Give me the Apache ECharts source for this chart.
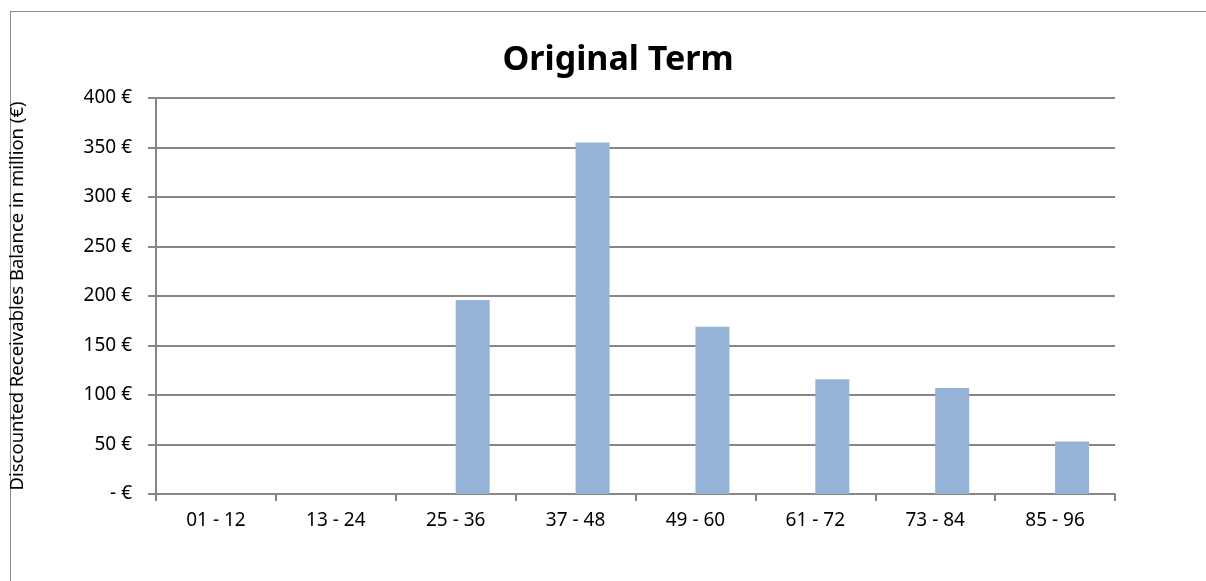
<!DOCTYPE html>
<html>
<head>
<meta charset="utf-8">
<script src="https://cdn.jsdelivr.net/npm/echarts@6/dist/echarts.min.js"></script>
<style>
html,body{margin:0;padding:0;background:#fff;overflow:hidden;}
#frame{position:absolute;left:10px;top:11px;width:1300px;height:700px;border:1.5px solid #8c8c8c;box-sizing:border-box;}
#chart{position:absolute;left:0;top:0;width:1206px;height:581px;}
</style>
</head>
<body>
<div id="frame"></div>
<div id="chart"></div>
<script>
const categories = ['01 - 12','13 - 24','25 - 36','37 - 48','49 - 60','61 - 72','73 - 84','85 - 96'];
const balances = [0, 0, 196, 355, 169, 116, 107, 53];
const emptySeries = ['-', '-', '-', '-', '-', '-', '-', '-'];
const titleText = 'Original Term';
const yAxisName = 'Discounted Receivables Balance in million (€)';

const chart = echarts.init(document.getElementById('chart'), null, {renderer:'canvas'});
const font = '"Noto Sans", "Open Sans", sans-serif';
chart.setOption({
  backgroundColor: 'transparent',
  animation: false,
  title: {
    text: titleText,
    left: 613, top: 38,
    textAlign: 'center',
    textStyle: {fontFamily: font, fontSize: 34, fontWeight: 'bold', color: '#000'}
  },
  grid: {left: 146, right: 91, top: 98, bottom: 87, containLabel: false},
  xAxis: {
    type: 'category',
    data: categories,
    boundaryGap: true,
    axisLine: {show: true, lineStyle: {color: '#868686', width: 2}},
    axisTick: {show: true, alignWithLabel: false, length: 7, lineStyle: {color: '#868686', width: 2}},
    axisLabel: {margin: 17, fontFamily: font, fontSize: 19, color: '#000'},
    splitLine: {show: false}
  },
  yAxis: {
    type: 'value',
    min: 0, max: 400, interval: 50,
    name: yAxisName,
    nameLocation: 'middle',
    nameGap: 129,
    nameRotate: 90,
    nameTextStyle: {fontFamily: font, fontSize: 18.5, color: '#000'},
    axisLine: {show: true, lineStyle: {color: '#868686', width: 2}},
    axisTick: {show: true, length: 8, lineStyle: {color: '#868686', width: 2}},
    axisLabel: {
      margin: 24, fontFamily: font, fontSize: 19, color: '#000',
      formatter: function(v){ return v === 0 ? '- €' : v + ' €'; }
    },
    splitLine: {show: true, lineStyle: {color: '#868686', width: 2}}
  },
  series: [{
    type: 'bar',
    data: emptySeries,
    barWidth: 34,
    barGap: '0%',
    itemStyle: {color: '#c0504d'}
  }, {
    type: 'bar',
    data: balances,
    barWidth: 34,
    barGap: '0%',
    itemStyle: {color: '#95b3d7'}
  }]
});
</script>
</body>
</html>
